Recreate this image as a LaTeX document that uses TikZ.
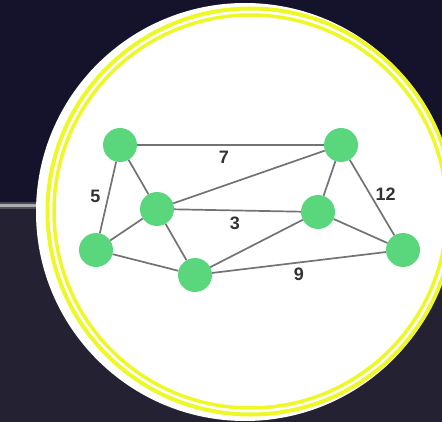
\documentclass[tikz,border=0pt]{standalone}
\usepackage{fontspec}
\setmainfont{Liberation Sans}
\definecolor{bgtop}{RGB}{21,18,43}
\definecolor{bgbot}{RGB}{36,34,50}
\definecolor{ring}{RGB}{238,248,40}
\definecolor{vert}{RGB}{90,214,125}
\definecolor{edgegray}{RGB}{115,115,115}
\definecolor{num}{RGB}{50,50,50}
\begin{document}
\begin{tikzpicture}[x=1pt, y=-1pt,
    vx/.style={circle, fill=vert, minimum size=34pt, inner sep=0pt},
    wt/.style={font=\fontsize{18}{21}\selectfont\bfseries, text=num, inner sep=1pt},
    ed/.style={edgegray, line width=1.7pt}]
    \useasboundingbox (0,0) rectangle (442,422);
    \clip (0,0) rectangle (442,422);
    % backdrop
    \fill[bgtop] (0,0) rectangle (442,205);
    \fill[bgbot] (0,205) rectangle (442,422);
    \draw[gray!70, line width=7pt, opacity=.35] (0,205.5) -- (442,205.5);
    \draw[gray!65, line width=3pt] (0,205.5) -- (442,205.5);
    % badge
    \fill[white] (245,212) circle (209pt);
    \draw[ring, line width=4pt] (250.5,211.5) circle (203pt);
    \draw[ring, line width=3.5pt] (250.5,211.5) circle (196.5pt);
    % graph
    \node[vx] (tl) at (120,145) {};
    \node[vx] (tr) at (341,145) {};
    \node[vx] (ml) at (157,209) {};
    \node[vx] (mr) at (318,212) {};
    \node[vx] (l)  at (96,250) {};
    \node[vx] (b)  at (195,275) {};
    \node[vx] (r)  at (403,250) {};
    \draw[ed] (tl) -- node[wt, pos=.465, below=4pt] {7} (tr);
    \draw[ed] (tl) -- node[wt, pos=.48, left=6pt] {5} (l);
    \draw[ed] (tl) -- (ml);
    \draw[ed] (ml) -- (tr);
    \draw[ed] (ml) -- node[wt, pos=.48, below=5pt] {3} (mr);
    \draw[ed] (ml) -- (l);
    \draw[ed] (ml) -- (b);
    \draw[ed] (l) -- (b);
    \draw[ed] (b) -- (mr);
    \draw[ed] (b) -- node[wt, pos=.5, below=4pt] {9} (r);
    \draw[ed] (mr) -- (tr);
    \draw[ed] (mr) -- (r);
    \draw[ed] (tr) -- node[wt, pos=.45, right=4pt] {12} (r);
\end{tikzpicture}
\end{document}
